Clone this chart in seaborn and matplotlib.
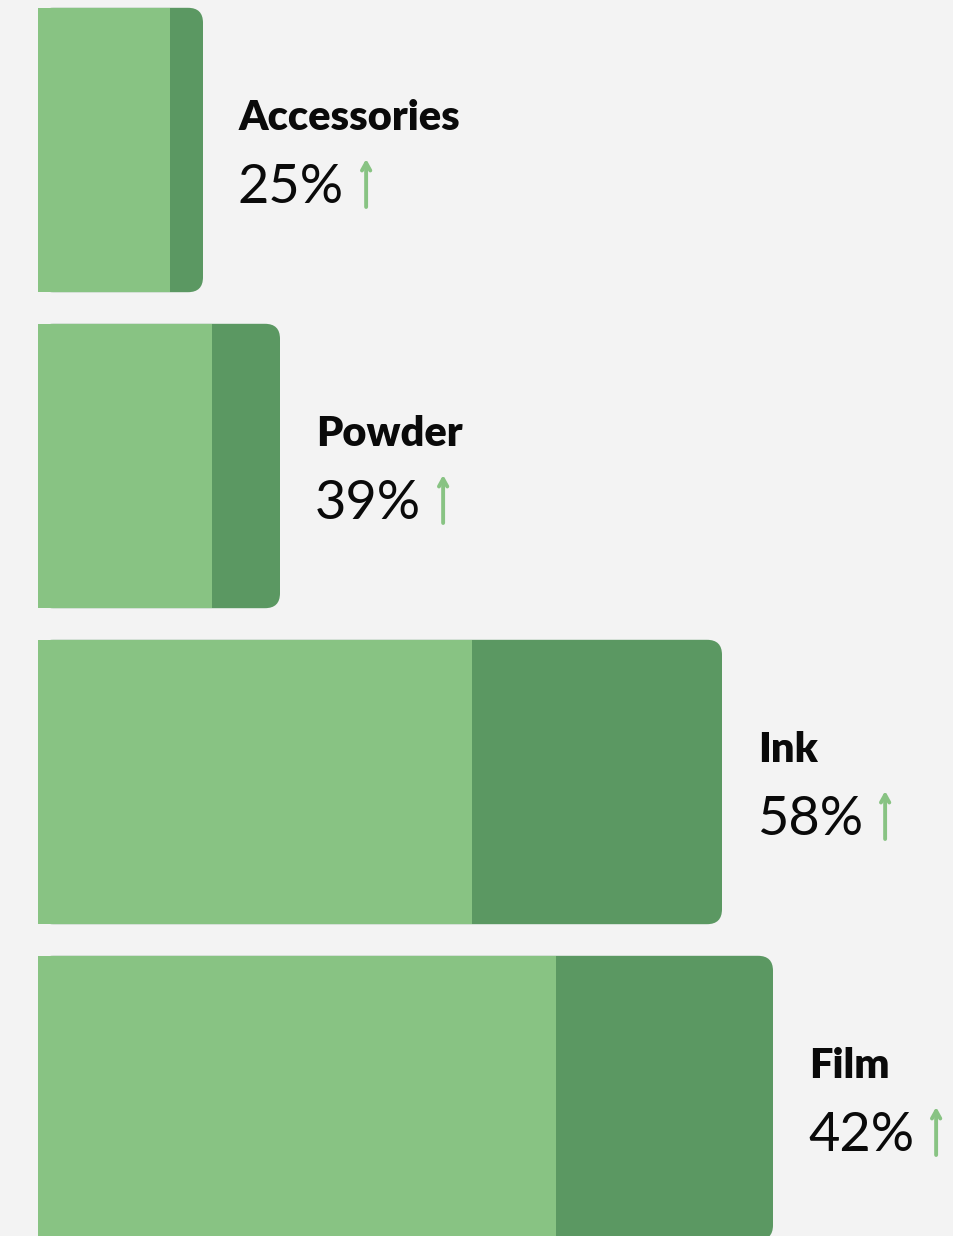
import matplotlib
matplotlib.use("Agg")
import matplotlib.pyplot as plt
import seaborn as sns
import pandas as pd
from matplotlib.patches import FancyBboxPatch

# ---- data ----
categories = ["Accessories", "Powder", "Ink", "Film"]
previous = [13.2, 17.4, 43.4, 51.8]
current = [16.5, 24.2, 68.4, 73.5]
growth_labels = ["25%", "39%", "58%", "42%"]

LIGHT = "#88C383"
DARK = "#5B9862"
BG = "#F3F3F3"

sns.set_theme(style="white")
plt.rcParams['font.family'] = ['Lato', 'DejaVu Sans']

W, H, DPI = 954, 1236, 100
fig = plt.figure(figsize=(W / DPI, H / DPI), dpi=DPI, facecolor=BG)
ax = fig.add_axes([0, 0, 1, 1])
ax.set_facecolor(BG)

df = pd.DataFrame(dict(category=categories, previous=previous, current=current))
sns.barplot(data=df, x="current", y="category", color=DARK, width=0.9,
            saturation=1, linewidth=0, ax=ax)
dark_patches = list(ax.patches)
sns.barplot(data=df, x="previous", y="category", color=LIGHT, width=0.9,
            saturation=1, linewidth=0, ax=ax)
light_patches = [p for p in ax.patches if p not in dark_patches]

# pixel-based layout
x_per_px = 0.1
ax.set_xlim(-38 * x_per_px, (W - 38) * x_per_px)
pitch = 316.0
ax.set_ylim(3 + (H - 1098) / pitch, -150 / pitch)
ax.axis("off")

y_per_px = 1 / pitch
aspect = y_per_px / x_per_px
for p in dark_patches:
    x0, y0 = p.get_x(), p.get_y()
    w, h = p.get_width(), p.get_height()
    p.remove()
    fb = FancyBboxPatch((x0, y0), w, h,
                        boxstyle="round,pad=0,rounding_size=1.5",
                        mutation_aspect=aspect, facecolor=DARK,
                        edgecolor="none", zorder=1)
    ax.add_patch(fb)
for p in light_patches:
    p.set_zorder(2)

PT = 72 / DPI
pct_texts = []
for i, (cat, cur, lab) in enumerate(zip(categories, current, growth_labels)):
    ax.annotate(cat, xy=(cur, i), xytext=(36 * PT, 20 * PT),
                textcoords="offset points", ha="left", va="baseline",
                fontsize=30, fontweight="heavy", color="#0a0a0a")
    t = ax.annotate(lab, xy=(cur, i), xytext=(35 * PT, -53 * PT),
                    textcoords="offset points", ha="left", va="baseline",
                    fontsize=39, color="#0a0a0a")
    pct_texts.append(t)

fig.canvas.draw()
renderer = fig.canvas.get_renderer()
for i, t in enumerate(pct_texts):
    ext = t.get_window_extent(renderer)
    _, yc = ax.transData.transform((0, i))
    base = yc - 53
    xa = ext.x1 + 22
    ax.annotate("", xy=(xa, base + 44), xycoords="figure pixels",
                xytext=(xa, base - 4), textcoords="figure pixels",
                arrowprops=dict(arrowstyle="->,head_length=0.45,head_width=0.25",
                                color=LIGHT, lw=2.8, shrinkA=0, shrinkB=0))

fig.savefig("out.png", dpi=DPI, facecolor=BG)
